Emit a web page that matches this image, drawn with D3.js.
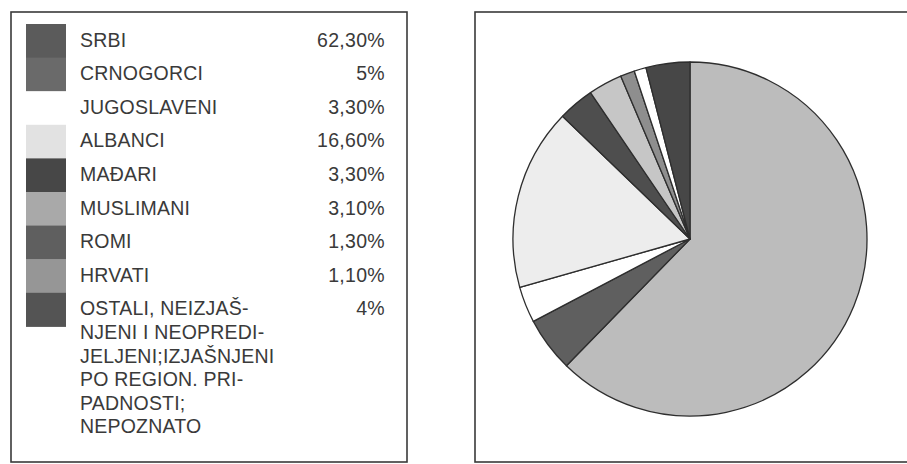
<!DOCTYPE html>
<html>
<head>
<meta charset="utf-8">
<script src="https://cdn.jsdelivr.net/npm/d3@7"></script>
<style>
  body { margin: 0; background: #fff; }
  svg { display: block; }
</style>
</head>
<body>
<svg id="drawing_region"></svg>
<script>
// kategorije i udjeli (%)
var categories = ['SRBI', 'CRNOGORCI', 'JUGOSLAVENI', 'ALBANCI', 'MAĐARI',
                  'MUSLIMANI', 'ROMI', 'HRVATI',
                  'OSTALI, NEIZJAŠ-\nNJENI I NEOPREDI-\nJELJENI;IZJAŠNJENI\nPO REGION. PRI-\nPADNOSTI;\nNEPOZNATO'];
var values = [62.3, 5, 3.3, 16.6, 3.3, 3.1, 1.3, 1.1, 4];
var valueLabels = ['62,30%', '5%', '3,30%', '16,60%', '3,30%', '3,10%', '1,30%', '1,10%', '4%'];
// legenda i pita se na skenu ne poklapaju sasvim u tonovima
var swatchColors = ['#5b5b5b', '#6a6a6a', '#ffffff', '#e2e2e2', '#474747', '#a9a9a9', '#5f5f5f', '#969696', '#545454'];
var sliceColors = ['#bcbcbc', '#5f5f5f', '#ffffff', '#ededed', '#4e4e4e', '#c6c6c6', '#8e8e8e', '#ffffff', '#474747'];

var W = 907, H = 464;
var svg = d3.select('#drawing_region')
    .attr('width', W)
    .attr('height', H);

// okviri
svg.append('rect')
    .attr('x', 11).attr('y', 12)
    .attr('width', 396).attr('height', 450)
    .attr('fill', 'none')
    .attr('stroke', '#3a3a3a')
    .attr('stroke-width', 1.6);

svg.append('rect')
    .attr('x', 475).attr('y', 12)
    .attr('width', 460).attr('height', 450)
    .attr('fill', 'none')
    .attr('stroke', '#3a3a3a')
    .attr('stroke-width', 1.6);

// legenda
var rowH = 33.6, top0 = 24;
var legend = svg.append('g');

legend.selectAll('rect.sw')
    .data(categories)
    .enter()
    .append('rect')
    .attr('class', 'sw')
    .attr('x', 26)
    .attr('y', (d, i) => top0 + i * rowH)
    .attr('width', 40)
    .attr('height', rowH + 0.5)
    .attr('fill', (d, i) => swatchColors[i]);

var labels = legend.selectAll('text.lab')
    .data(categories)
    .enter()
    .append('text')
    .attr('class', 'lab')
    .attr('x', 80)
    .attr('y', (d, i) => top0 + i * rowH + 22.5)
    .attr('font-family', 'Liberation Sans, Arial, sans-serif')
    .attr('font-size', 19.5)
    .attr('letter-spacing', 0.2)
    .attr('fill', '#3a3a3a');

labels.each(function(d) {
    var t = d3.select(this);
    d.split('\n').forEach((line, j) => {
        t.append('tspan')
            .attr('x', 80)
            .attr('dy', j === 0 ? 0 : 23.6)
            .text(line);
    });
});

legend.selectAll('text.val')
    .data(valueLabels)
    .enter()
    .append('text')
    .attr('class', 'val')
    .attr('x', 385)
    .attr('y', (d, i) => top0 + i * rowH + 22.5)
    .attr('text-anchor', 'end')
    .attr('font-family', 'Liberation Sans, Arial, sans-serif')
    .attr('font-size', 19.5)
    .attr('letter-spacing', 0.3)
    .attr('fill', '#3a3a3a')
    .text(d => d);

// pita
var cx = 690, cy = 239, r = 177;
var pie = d3.pie().sort(null).value(d => d);
var arc = d3.arc().innerRadius(0).outerRadius(r);

svg.append('g')
    .attr('transform', `translate(${cx}, ${cy})`)
    .selectAll('path')
    .data(pie(values))
    .enter()
    .append('path')
    .attr('d', arc)
    .attr('fill', (d, i) => sliceColors[i])
    .attr('stroke', '#2e2e2e')
    .attr('stroke-width', 1.3)
    .attr('stroke-linejoin', 'round');
</script>
</body>
</html>
